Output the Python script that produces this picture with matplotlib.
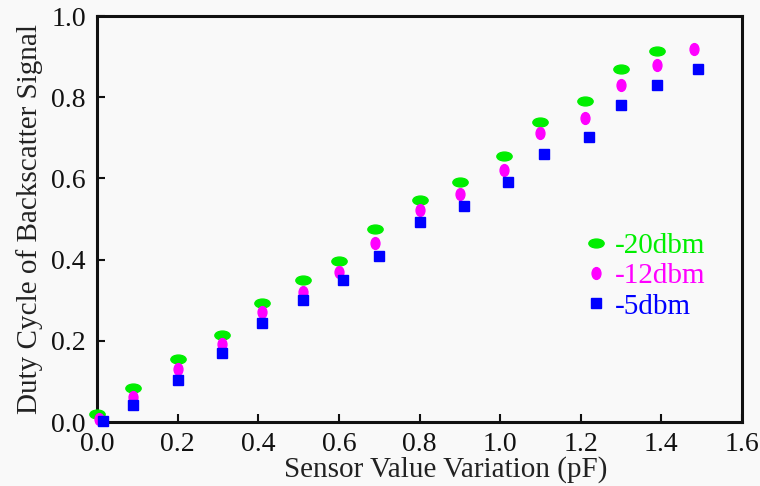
import matplotlib
matplotlib.use("Agg")
import matplotlib.pyplot as plt
from matplotlib.path import Path
from matplotlib.transforms import Affine2D

# Data
x_20 = [0.00, 0.09, 0.20, 0.31, 0.41, 0.51, 0.60, 0.69, 0.80, 0.90, 1.01, 1.10, 1.21, 1.30, 1.39]
y_20 = [0.020, 0.083, 0.154, 0.214, 0.294, 0.350, 0.397, 0.476, 0.546, 0.592, 0.655, 0.740, 0.791, 0.869, 0.915]

x_12 = [0.005, 0.09, 0.20, 0.31, 0.41, 0.51, 0.60, 0.69, 0.80, 0.90, 1.01, 1.10, 1.21, 1.30, 1.39, 1.48]
y_12 = [0.007, 0.062, 0.131, 0.191, 0.270, 0.321, 0.370, 0.440, 0.522, 0.562, 0.621, 0.711, 0.750, 0.829, 0.879, 0.918]

x_5 = [0.015, 0.09, 0.20, 0.31, 0.41, 0.51, 0.61, 0.70, 0.80, 0.91, 1.02, 1.11, 1.22, 1.30, 1.39, 1.49]
y_5 = [0.002, 0.043, 0.104, 0.170, 0.244, 0.300, 0.350, 0.410, 0.492, 0.532, 0.592, 0.660, 0.701, 0.781, 0.830, 0.869]

series_labels = ["-20dbm", "-12dbm", "-5dbm"]
x_ticks = [0.0, 0.2, 0.4, 0.6, 0.8, 1.0, 1.2, 1.4, 1.6]
y_ticks = [0.0, 0.2, 0.4, 0.6, 0.8, 1.0]

plt.rcParams['font.family'] = ['Liberation Serif', 'DejaVu Serif']

wide_ellipse = Path.unit_circle().transformed(Affine2D().scale(1.0, 0.58))
tall_ellipse = Path.unit_circle().transformed(Affine2D().scale(0.75, 1.0))

fig = plt.figure(figsize=(7.6, 4.86), dpi=100, facecolor='#f9f9f9')
ax = fig.add_axes([97/760, 1 - 422/486, (742-97)/760, (422-16)/486])
ax.set_facecolor('#f9f9f9')

ax.plot(x_20, y_20, linestyle='none', marker=wide_ellipse, markersize=11,
        color='#00ee00', label=series_labels[0], clip_on=False, zorder=3)
ax.plot(x_12, y_12, linestyle='none', marker=tall_ellipse, markersize=8.5,
        color='#ff00ff', label=series_labels[1], clip_on=False, zorder=4)
ax.plot(x_5, y_5, linestyle='none', marker='s', markersize=7,
        color='#0000ff', label=series_labels[2], clip_on=False, zorder=5)

ax.set_xlim(0, 1.6)
ax.set_ylim(0, 1.0)
ax.set_xticks(x_ticks)
ax.set_yticks(y_ticks)
ax.set_xticklabels([f"{v:.1f}" for v in x_ticks])
ax.set_yticklabels([f"{v:.1f}" for v in y_ticks])
ax.tick_params(axis='both', direction='in', length=6, width=1.5, labelsize=20,
               colors='#111111')
ax.tick_params(axis='x', pad=7)
ax.tick_params(axis='y', pad=8)
for s in ax.spines.values():
    s.set_linewidth(2.2)
    s.set_color('#111111')

ax.set_xlabel("Sensor Value Variation (pF)", fontsize=21, color='#222222')
ax.xaxis.set_label_coords(0.541, -0.083)
ax.set_ylabel("Duty Cycle of Backscatter Signal", fontsize=21, color='#222222', labelpad=6)

leg = ax.legend(loc='upper left', bbox_to_anchor=(0.738, 0.495), frameon=False,
                fontsize=21, handletextpad=0.25, handlelength=0.8,
                labelspacing=0.13, borderaxespad=0)
for txt, c in zip(leg.get_texts(), ['#00ee00', '#ff00ff', '#0000ff']):
    txt.set_color(c)

fig.savefig("out.png", dpi=100, facecolor=fig.get_facecolor())
